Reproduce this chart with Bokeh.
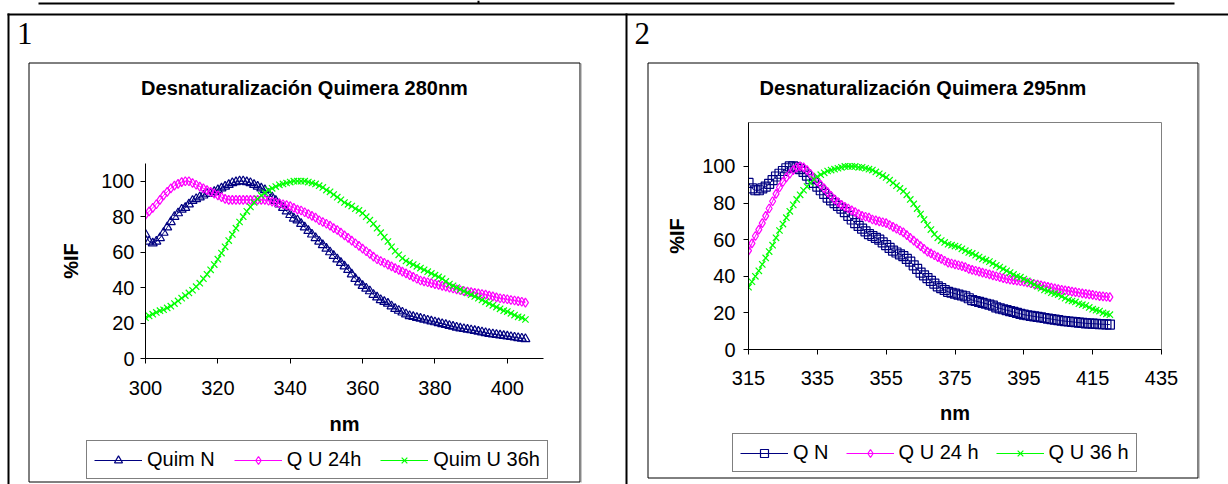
from bokeh.plotting import figure
from bokeh.models import Range1d, FixedTicker, Legend, LegendItem
from bokeh.core.properties import value
from bokeh.embed import file_html
from bokeh.resources import INLINE

# ---------------- data ----------------
wl_280 = list(range(300, 406))
quim_n_280 = [70, 66, 65, 66, 68, 71, 74, 77, 80, 82,
              84, 85, 87, 89, 90, 91, 92, 93, 93, 94,
              95, 96, 97, 98, 99, 99.5, 100, 100, 99.5, 99,
              98, 97, 96, 95, 93, 91, 89, 87, 85, 83,
              81, 79, 78, 76, 74, 72, 70, 68, 66, 64,
              62, 60, 58, 56, 54, 52, 50, 47.5, 45, 43,
              41, 39.5, 38, 36, 34.5, 33, 32, 31, 29.5, 28,
              27, 26, 25, 24, 23.5, 23, 22.5, 22, 21.5, 21,
              20.5, 20, 19.5, 19, 18.5, 18, 17.5, 17, 16.7, 16.3,
              16, 15.6, 15.2, 14.8, 14.4, 14, 13.7, 13.4, 13.1, 12.8,
              12.5, 12.2, 11.9, 11.6, 11.3, 11]
qu24_280 = [81, 83, 85, 87, 89.5, 92, 94, 96, 97.5, 98.5,
            99.5, 100, 100, 99, 98, 97, 96, 95, 94, 93,
            92, 91, 90, 89.5, 89.5, 89.5, 89.5, 89.5, 89.5, 89.5,
            89.5, 89.5, 89.5, 89.5, 89, 88.5, 88, 87.5, 87, 86.5,
            86, 85, 84, 83.5, 82.5, 81.5, 80.5, 79.5, 78, 77,
            76, 75, 73.5, 72.5, 71, 69.5, 68, 66.5, 65, 63.5,
            62, 60.5, 59, 57.5, 56, 55, 54, 53, 52, 51,
            50, 49, 48, 47, 46, 45, 44, 43.5, 43, 42.5,
            42, 41.5, 41, 40.5, 40, 39.5, 39, 38.5, 38, 37.7,
            37.4, 37, 36.7, 36.4, 36, 35.5, 35, 34.5, 34, 33.7,
            33.4, 33, 32.7, 32.4, 32, 31.5]
qu36_280 = [23, 24, 25, 26, 27, 27.5, 28.5, 29.5, 31, 32.5,
            34, 35.5, 37, 38.5, 40.5, 42.5, 45, 47.5, 50, 53,
            56, 59.5, 63, 66.5, 70, 73.5, 77, 80, 83, 85.5,
            88, 90, 92, 93.5, 95, 96, 97, 98, 98.5, 99,
            99.5, 100, 100, 100, 100, 99.5, 99, 98.5, 97.5, 96.5,
            95, 94, 92.5, 91, 89.5, 88, 87, 86, 84.5, 83.5,
            82, 80, 78, 76, 73.5, 71, 68.5, 66, 63, 60.5,
            58.5, 56.5, 55, 54, 53, 52, 51, 50, 49, 48,
            47, 46, 45, 43.5, 42, 41, 40, 39, 38, 37,
            36, 35, 34, 33, 32, 31, 30, 29, 28, 27,
            26.5, 25.5, 24.5, 23.5, 23, 22]

wl_295 = list(range(315, 421))
qn_295 = [91, 88, 87, 87, 88, 89, 90.5, 92.5, 94.5, 96,
          97.5, 99, 100, 100, 99.5, 98.5, 97, 95, 93, 91,
          89, 87, 85, 83, 81.5, 80, 78.5, 77, 75, 73,
          71, 69, 67.5, 66, 64.5, 63, 62, 61, 60, 58.5,
          57, 55.5, 54, 53, 52, 51, 49.5, 48, 46, 44,
          42, 40.5, 39, 37.5, 36, 34.5, 33.5, 32.5, 31.5, 31,
          30.5, 30, 29.5, 29, 28, 27, 26.5, 26, 25.5, 25,
          24.5, 24, 23, 22.5, 22, 21.5, 21, 20.5, 20, 19.5,
          19, 18.7, 18.4, 18.1, 17.8, 17.5, 17.2, 16.9, 16.6, 16.3,
          16, 15.7, 15.5, 15.3, 15.1, 14.9, 14.7, 14.5, 14.3, 14.2,
          14.1, 14, 13.9, 13.8, 13.7, 13.6]
qu24_295 = [54, 58, 62, 65.5, 69, 73, 77, 81, 85, 88.5,
            91.5, 94, 96, 98, 99.5, 100, 99.5, 98, 96, 94,
            92, 90, 88, 86, 84, 82, 80.5, 79, 78, 77,
            76, 75, 74, 73, 72.5, 72, 71, 70.5, 70, 69.5,
            69, 68, 67, 66, 65, 64, 62.5, 61, 59.5, 58,
            56.5, 55, 53.5, 52.5, 51.5, 50.5, 49.5, 48.5, 47.5, 47,
            46.5, 46, 45.5, 45, 44, 43.5, 43, 42.5, 42, 41.5,
            41, 40.5, 40, 39.5, 39, 38.5, 38.2, 37.9, 37.6, 37.3,
            37, 36.6, 36.2, 35.8, 35.4, 35, 34.6, 34.2, 33.8, 33.4,
            33, 32.6, 32.3, 32, 31.6, 31.3, 31, 30.7, 30.4, 30.1,
            29.8, 29.5, 29.2, 29, 28.8, 28.6]
qu36_295 = [34, 37, 40, 43, 46.5, 50, 53.5, 57, 61, 65,
            68.5, 72, 75.5, 79, 82, 84.5, 87, 89, 91, 93,
            94.5, 95.5, 96.5, 97.5, 98, 98.5, 99, 99.5, 100, 100,
            100, 100, 99.5, 99.5, 99, 98.5, 98, 97, 96, 95,
            94, 92.5, 91, 89.5, 88, 86.5, 84.5, 82, 79.5, 77,
            74, 71, 68, 65.5, 63, 61, 59.5, 58.5, 57.5, 57,
            56.5, 56, 55, 54, 53, 52.5, 51.5, 50.5, 49.5, 48.8,
            48, 47, 46, 45, 44, 43, 42, 41, 40, 39.5,
            38.5, 37.5, 36.5, 35.5, 34.5, 33.5, 32.5, 32, 31, 30.5,
            30, 29, 28, 27, 26.5, 26, 25, 24.5, 24, 23,
            22, 21.5, 21, 20, 19.5, 19]

y_ticks = [0, 20, 40, 60, 80, 100]
x_ticks_280 = [300, 320, 340, 360, 380, 400]
x_ticks_295 = [315, 335, 355, 375, 395, 415, 435]

titles = ["Desnaturalización Quimera 280nm", "Desnaturalización Quimera 295nm"]
cell_numbers = ["1", "2"]
labels_280 = ["Quim N", "Q U 24h", "Quim U 36h"]
labels_295 = ["Q N", "Q U 24 h", "Q U 36 h"]

# ---------------- style / layout ----------------
SANS = "Liberation Sans"
SERIF = "Liberation Serif"
COLORS = ["#000080", "#FF00FF", "#00FF00"]
PAGE_W, PAGE_H = 1228, 484
MARKER_SIZE, MARKER_LW = 9, 1.2


def place(model, left, top):
    model.styles = {"position": "absolute", "left": f"{left}px", "top": f"{top}px"}


# ---- page layer (table rules, chart frames, titles, numbers, legends) ----
deco = figure(width=PAGE_W, height=PAGE_H, x_range=Range1d(0, PAGE_W),
              y_range=Range1d(PAGE_H, 0), min_border=0, x_axis_location=None,
              y_axis_location=None, toolbar_location=None, output_backend="svg")
deco.grid.visible = False
deco.outline_line_color = None
deco.background_fill_color = "white"
deco.border_fill_color = "white"
place(deco, 0, 0)

# document rules: heading line, table top, left border, middle divider
deco.quad(left=[38, 477, 7, 7, 625], right=[1174, 479, PAGE_W, 9, 627],
          top=[2, 0, 13, 13, 13], bottom=[4, 3, 15, PAGE_H, PAGE_H],
          fill_color="black", line_color=None)
# chart-area borders (with light shadow on the right)
deco.quad(left=[28.5, 647.5], right=[579.5, 1197.5], top=[62.5, 62.5],
          bottom=[481.5, 477.5], fill_color=None, line_color="black", line_width=1)
deco.segment(x0=[580.5, 1198.5], y0=[63, 63], x1=[580.5, 1198.5], y1=[482, 478],
             line_color="#909090", line_width=1)
# chart titles
deco.text(x=[304, 922.5], y=[87, 87], text=titles, text_font=value(SANS),
          text_font_size=value("20px"), text_font_style=value("bold"),
          text_align=value("center"), text_baseline=value("middle"),
          text_color="black")
# cell numbers
deco.text(x=[16.5, 634], y=[33, 33], text=cell_numbers, text_font=value(SERIF),
          text_font_size=value("31px"), text_align=value("left"),
          text_baseline=value("middle"), text_color="black")

NAN = float("nan")


def add_legend(labels, markers, loc, spacing):
    items = []
    for lab, col, mk in zip(labels, COLORS, markers):
        # legend-swatch renderers (no visible data of their own)
        lr = deco.line(x=[NAN], y=[NAN], line_color=col, line_width=1)
        sr = deco.scatter(x=[NAN], y=[NAN], marker=mk, size=MARKER_SIZE,
                          line_color=col, line_width=MARKER_LW, fill_color=None)
        items.append(LegendItem(label=lab, renderers=[lr, sr]))
    leg = Legend(items=items, location=loc, orientation="horizontal",
                 label_text_font=SANS, label_text_font_size="20px",
                 label_text_color="black", glyph_width=48, glyph_height=20,
                 label_standoff=5, spacing=spacing, padding=7, margin=0,
                 label_height=22,
                 border_line_color="black", border_line_width=1,
                 background_fill_color="white", background_fill_alpha=1)
    deco.add_layout(leg)


add_legend(labels_280, ["triangle", "diamond", "x"], (86, 5), 19)
add_legend(labels_295, ["square", "diamond", "x"], (732, 12), 17)


def make_chart(frame, borders, xr, yr, xticks, wl, series, markers,
               outline, y_std, x_std):
    fl, fr, ft, fb = frame            # plot-area edges on the page
    bl, bt, br, bb = borders          # space around the plot area
    width = bl + (fr - fl) + br
    height = bt + (fb - ft) + bb
    p = figure(width=width, height=height, x_range=Range1d(*xr), y_range=Range1d(*yr),
               output_backend="svg", toolbar_location=None,
               min_border_left=bl, min_border_right=br,
               min_border_top=bt, min_border_bottom=bb)
    place(p, fl - bl, ft - bt)
    p.grid.visible = False
    p.background_fill_alpha = 0
    p.border_fill_alpha = 0
    p.outline_line_color = outline

    for ax in (p.xaxis[0], p.yaxis[0]):
        ax.axis_line_color = "black"
        ax.major_tick_line_color = "black"
        ax.minor_tick_line_color = None
        ax.major_tick_in = 0
        ax.major_tick_out = 5
        ax.major_label_text_font = SANS
        ax.major_label_text_font_size = "20px"
        ax.major_label_text_color = "black"
        ax.axis_label_text_font = SANS
        ax.axis_label_text_font_size = "20px"
        ax.axis_label_text_font_style = "bold"
        ax.axis_label_text_color = "black"
    p.xaxis.ticker = FixedTicker(ticks=xticks)
    p.yaxis.ticker = FixedTicker(ticks=y_ticks)
    p.xaxis.axis_label = "nm"
    p.yaxis.axis_label = "%IF"
    p.yaxis.major_label_standoff = y_std[0]
    p.yaxis.axis_label_standoff = y_std[1]
    p.xaxis.major_label_standoff = x_std[0]
    p.xaxis.axis_label_standoff = x_std[1]

    for ys, col, mk in zip(series, COLORS, markers):
        p.line(wl, ys, line_color=col, line_width=1)
        p.scatter(wl, ys, marker=mk, size=MARKER_SIZE, line_color=col,
                  line_width=MARKER_LW, fill_color=None)
    return p


p1 = make_chart((145, 543, 163, 358), (90, 10, 20, 124), (300, 410), (0, 110),
                x_ticks_280, wl_280, [quim_n_280, qu24_280, qu36_280],
                ["triangle", "diamond", "x"], None, (6, 16), (17, 15))
p2 = make_chart((748, 1161, 122, 349), (90, 10, 20, 124), (315, 435), (0, 124),
                x_ticks_295, wl_295, [qn_295, qu24_295, qu36_295],
                ["square", "diamond", "x"], "#808080", (8, 11), (16, 14))

open("out.html", "w", encoding="utf-8").write(file_html([deco, p1, p2], INLINE))
